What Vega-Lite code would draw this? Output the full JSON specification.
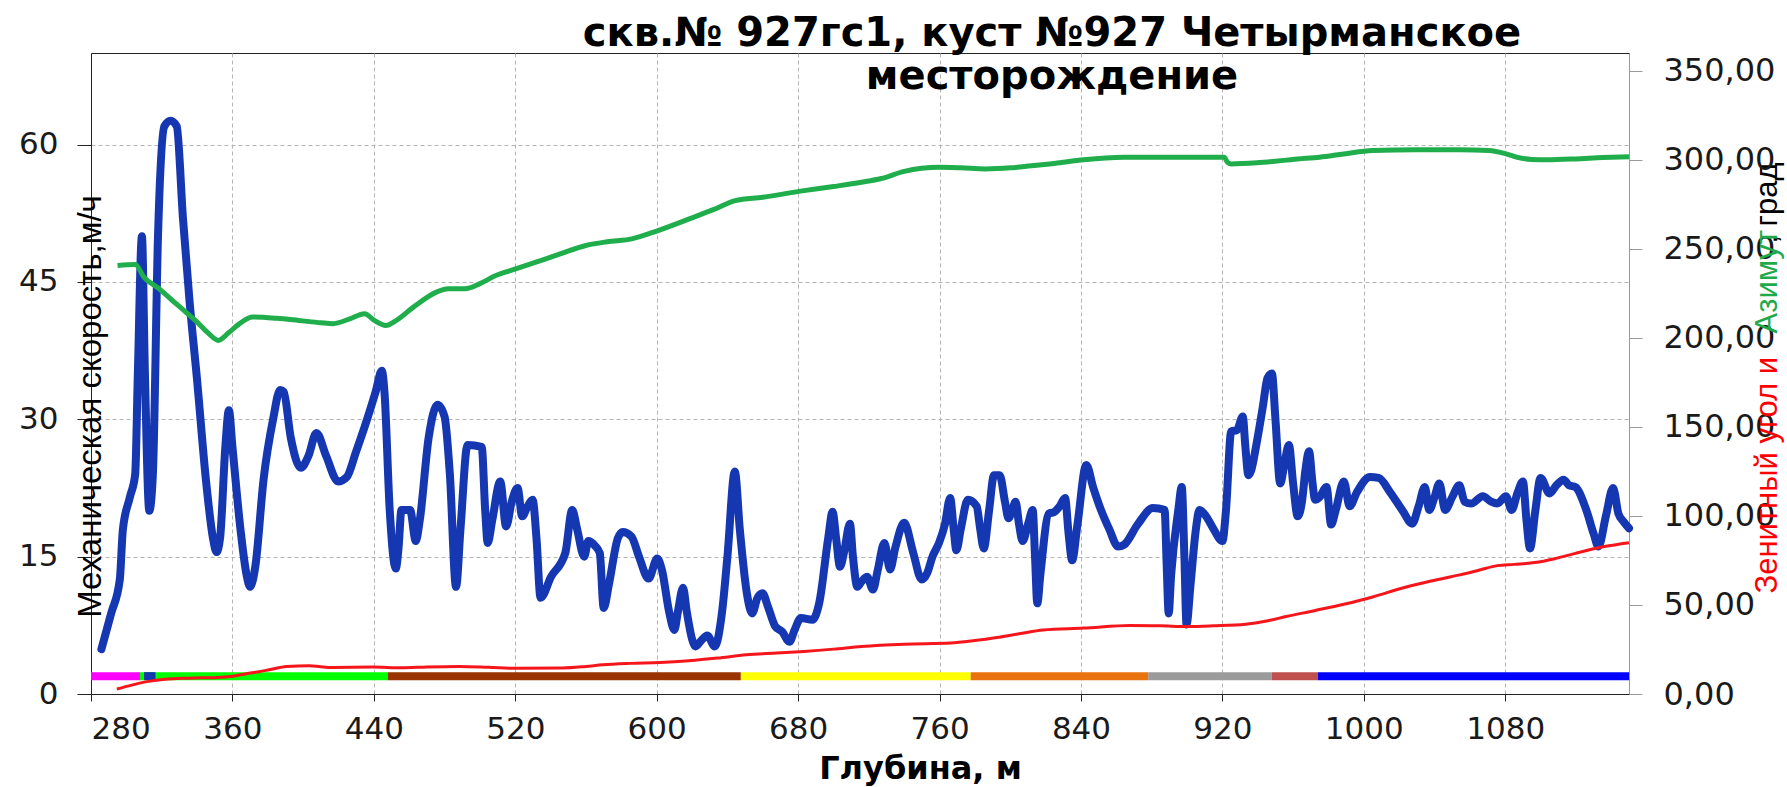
{
  "$schema": "https://vega.github.io/schema/vega-lite/v6.json",
  "width": 1538,
  "height": 641,
  "autosize": {"type": "none"},
  "padding": {"left": 91, "top": 53, "right": 158, "bottom": 93},
  "background": "#ffffff",
  "title": {
    "text": ["скв.№ 927гс1, куст №927  Четырманское", "месторождение"],
    "font": "DejaVu Sans",
    "fontSize": 40,
    "fontWeight": "bold",
    "color": "#000000",
    "anchor": "middle",
    "frame": "group",
    "dx": 192,
    "offset": -44,
    "lineHeight": 43
  },
  "datasets": {
    "speed": [
      {"d": 285.9, "v": 4.9}, {"d": 291.4, "v": 8.8}, {"d": 296.3, "v": 12.5}, {"d": 298, "v": 17.9}, {"d": 302, "v": 21.5}, {"d": 305, "v": 24}, {"d": 306.5, "v": 35}, {"d": 308.8, "v": 50}, {"d": 310.5, "v": 35}, {"d": 313, "v": 20}, {"d": 315, "v": 24}, {"d": 317.9, "v": 50}, {"d": 321.5, "v": 62}, {"d": 325, "v": 62.6}, {"d": 328.5, "v": 62}, {"d": 332, "v": 52}, {"d": 335.7, "v": 43}, {"d": 340, "v": 34.3}, {"d": 345, "v": 23.4}, {"d": 349, "v": 17}, {"d": 351, "v": 15.5}, {"d": 353, "v": 17}, {"d": 356, "v": 27}, {"d": 358, "v": 31}, {"d": 360, "v": 27}, {"d": 364.6, "v": 17.9}, {"d": 368, "v": 13}, {"d": 370, "v": 11.7}, {"d": 373, "v": 14}, {"d": 377.6, "v": 23.4}, {"d": 383, "v": 30}, {"d": 387, "v": 33.2}, {"d": 389, "v": 33}, {"d": 393, "v": 28}, {"d": 398.7, "v": 24.7}, {"d": 403, "v": 26}, {"d": 407.5, "v": 28.5}, {"d": 413, "v": 26}, {"d": 419.8, "v": 23.2}, {"d": 424.7, "v": 23.7}, {"d": 430, "v": 26.5}, {"d": 436, "v": 29.9}, {"d": 441, "v": 33}, {"d": 444.5, "v": 35.3}, {"d": 446, "v": 33}, {"d": 449, "v": 20}, {"d": 452.4, "v": 13.7}, {"d": 454, "v": 16}, {"d": 455.6, "v": 20.1}, {"d": 460.5, "v": 20.1}, {"d": 463.7, "v": 16.7}, {"d": 466, "v": 19}, {"d": 471, "v": 28}, {"d": 476, "v": 31.6}, {"d": 480, "v": 30.3}, {"d": 483, "v": 24}, {"d": 486.5, "v": 11.7}, {"d": 489, "v": 18}, {"d": 493, "v": 27.2}, {"d": 501, "v": 27}, {"d": 503, "v": 20}, {"d": 504.4, "v": 16.5}, {"d": 507, "v": 19}, {"d": 511.5, "v": 23.2}, {"d": 514.8, "v": 18.3}, {"d": 518, "v": 21}, {"d": 521.3, "v": 22.5}, {"d": 523.9, "v": 19.4}, {"d": 527, "v": 20.5}, {"d": 529.8, "v": 21.2}, {"d": 532, "v": 17}, {"d": 534.3, "v": 10.5}, {"d": 540.2, "v": 12.8}, {"d": 548.3, "v": 15.4}, {"d": 552.2, "v": 20.1}, {"d": 555, "v": 18}, {"d": 559, "v": 15}, {"d": 561.3, "v": 16.7}, {"d": 565, "v": 16.2}, {"d": 567.8, "v": 15.4}, {"d": 570, "v": 9.4}, {"d": 573, "v": 12}, {"d": 578, "v": 17}, {"d": 580.8, "v": 17.7}, {"d": 585.7, "v": 17.2}, {"d": 590, "v": 15}, {"d": 595.4, "v": 12.6}, {"d": 600.3, "v": 14.8}, {"d": 603, "v": 13.5}, {"d": 607, "v": 9}, {"d": 610, "v": 7}, {"d": 612, "v": 9}, {"d": 614.9, "v": 11.6}, {"d": 617, "v": 9}, {"d": 620, "v": 6}, {"d": 622, "v": 5.2}, {"d": 625, "v": 5.8}, {"d": 628.6, "v": 6.4}, {"d": 632.8, "v": 5.2}, {"d": 637, "v": 9}, {"d": 640, "v": 15}, {"d": 644.2, "v": 24.3}, {"d": 647, "v": 18}, {"d": 651, "v": 11}, {"d": 654, "v": 8.8}, {"d": 657, "v": 10.5}, {"d": 659.8, "v": 11}, {"d": 663, "v": 9.5}, {"d": 667, "v": 7.4}, {"d": 671, "v": 6.8}, {"d": 675.1, "v": 5.7}, {"d": 678, "v": 7}, {"d": 681.6, "v": 8.3}, {"d": 688, "v": 8.1}, {"d": 692, "v": 10}, {"d": 697, "v": 17}, {"d": 699.5, "v": 19.9}, {"d": 701.5, "v": 17}, {"d": 703.7, "v": 13.9}, {"d": 706, "v": 15.5}, {"d": 709.3, "v": 18.6}, {"d": 711, "v": 15}, {"d": 713.5, "v": 11.7}, {"d": 716, "v": 12.3}, {"d": 719, "v": 12.8}, {"d": 722.3, "v": 11.4}, {"d": 725, "v": 13.5}, {"d": 728.8, "v": 16.5}, {"d": 732, "v": 13.6}, {"d": 735, "v": 16}, {"d": 740, "v": 18.7}, {"d": 745, "v": 15.5}, {"d": 749.9, "v": 12.5}, {"d": 753, "v": 13.2}, {"d": 756, "v": 15}, {"d": 759.7, "v": 16.5}, {"d": 763, "v": 18.5}, {"d": 766, "v": 21.4}, {"d": 768, "v": 18}, {"d": 769.5, "v": 15.7}, {"d": 772, "v": 18}, {"d": 776, "v": 21.2}, {"d": 781, "v": 20.5}, {"d": 783, "v": 18}, {"d": 785, "v": 15.9}, {"d": 788, "v": 20}, {"d": 790.8, "v": 23.9}, {"d": 794, "v": 23.9}, {"d": 797, "v": 21}, {"d": 799, "v": 19.2}, {"d": 801, "v": 20}, {"d": 803, "v": 21}, {"d": 805, "v": 18.5}, {"d": 807, "v": 16.7}, {"d": 810, "v": 18.5}, {"d": 812.7, "v": 20.1}, {"d": 814, "v": 15}, {"d": 815.3, "v": 9.9}, {"d": 817, "v": 13}, {"d": 821.8, "v": 19.7}, {"d": 825, "v": 19.9}, {"d": 828, "v": 20.5}, {"d": 831, "v": 21.4}, {"d": 833, "v": 17.5}, {"d": 835, "v": 14.6}, {"d": 838, "v": 18.5}, {"d": 843, "v": 25}, {"d": 847, "v": 22.5}, {"d": 851.3, "v": 20.1}, {"d": 856, "v": 18}, {"d": 861, "v": 16.1}, {"d": 864.4, "v": 16.3}, {"d": 872, "v": 18.5}, {"d": 880.7, "v": 20.3}, {"d": 887.3, "v": 20.1}, {"d": 888.5, "v": 14}, {"d": 889.6, "v": 8.8}, {"d": 891, "v": 13}, {"d": 895, "v": 20}, {"d": 897, "v": 22.6}, {"d": 898.5, "v": 15}, {"d": 899.7, "v": 7.6}, {"d": 902, "v": 12}, {"d": 905, "v": 18}, {"d": 907, "v": 20.1}, {"d": 910.8, "v": 19.4}, {"d": 915, "v": 18}, {"d": 920, "v": 16.7}, {"d": 922, "v": 20}, {"d": 925, "v": 28.7}, {"d": 928.2, "v": 28.8}, {"d": 931.5, "v": 30.3}, {"d": 933, "v": 27}, {"d": 934.7, "v": 23.9}, {"d": 936.4, "v": 24.5}, {"d": 939, "v": 27}, {"d": 942.9, "v": 31.4}, {"d": 945.5, "v": 34.5}, {"d": 948, "v": 35}, {"d": 950, "v": 30}, {"d": 952.7, "v": 23}, {"d": 955, "v": 25}, {"d": 957.6, "v": 27.2}, {"d": 960, "v": 23}, {"d": 962.6, "v": 19.4}, {"d": 965, "v": 21}, {"d": 967, "v": 24.5}, {"d": 969, "v": 26.5}, {"d": 971, "v": 23}, {"d": 972.4, "v": 21.2}, {"d": 975, "v": 21.5}, {"d": 978.9, "v": 22.6}, {"d": 981.5, "v": 18.5}, {"d": 984, "v": 20}, {"d": 988.7, "v": 23.2}, {"d": 992, "v": 20.5}, {"d": 996, "v": 22}, {"d": 1003.5, "v": 23.7}, {"d": 1008.4, "v": 23.6}, {"d": 1015, "v": 22}, {"d": 1022, "v": 20}, {"d": 1027.3, "v": 18.6}, {"d": 1031, "v": 20.5}, {"d": 1034.5, "v": 22.6}, {"d": 1037, "v": 20.1}, {"d": 1040, "v": 21.5}, {"d": 1042.7, "v": 23}, {"d": 1046, "v": 20.1}, {"d": 1050, "v": 21.5}, {"d": 1054, "v": 22.8}, {"d": 1057, "v": 21}, {"d": 1060.7, "v": 20.8}, {"d": 1067.3, "v": 21.6}, {"d": 1072, "v": 21}, {"d": 1075.5, "v": 20.8}, {"d": 1080.4, "v": 21.6}, {"d": 1083.6, "v": 20.1}, {"d": 1087, "v": 22}, {"d": 1090, "v": 23.2}, {"d": 1092, "v": 19}, {"d": 1094, "v": 15.9}, {"d": 1097, "v": 20}, {"d": 1100, "v": 23.6}, {"d": 1105, "v": 21.9}, {"d": 1109, "v": 22.8}, {"d": 1113, "v": 23.4}, {"d": 1116, "v": 22.8}, {"d": 1119.6, "v": 22.6}, {"d": 1126, "v": 20}, {"d": 1130, "v": 17.5}, {"d": 1132.7, "v": 16.1}, {"d": 1137, "v": 19.5}, {"d": 1141, "v": 22.5}, {"d": 1144, "v": 19.7}, {"d": 1147, "v": 18.8}, {"d": 1150, "v": 18.1}
    ],
    "zen": [
      {"d": 294.6, "r": 2.8}, {"d": 303, "r": 5}, {"d": 312.5, "r": 7.1}, {"d": 322, "r": 8.3}, {"d": 335.3, "r": 8.9}, {"d": 351.5, "r": 9.3}, {"d": 360, "r": 10}, {"d": 367.8, "r": 11.4}, {"d": 375, "r": 12.5}, {"d": 380.8, "r": 13.6}, {"d": 390.6, "r": 15.5}, {"d": 403.6, "r": 15.9}, {"d": 410, "r": 15.3}, {"d": 416.6, "r": 14.9}, {"d": 439.3, "r": 15.1}, {"d": 455.6, "r": 14.7}, {"d": 470, "r": 15.2}, {"d": 488.1, "r": 15.5}, {"d": 505, "r": 15}, {"d": 520.6, "r": 14.4}, {"d": 546.7, "r": 14.6}, {"d": 560, "r": 15.5}, {"d": 569.4, "r": 16.4}, {"d": 585, "r": 17.2}, {"d": 602, "r": 17.7}, {"d": 618.2, "r": 18.7}, {"d": 634.5, "r": 20.2}, {"d": 650.7, "r": 22}, {"d": 668, "r": 23}, {"d": 683.3, "r": 23.9}, {"d": 700, "r": 25.2}, {"d": 715.8, "r": 26.7}, {"d": 740, "r": 28}, {"d": 766.2, "r": 28.6}, {"d": 780, "r": 30}, {"d": 792.4, "r": 31.7}, {"d": 805, "r": 33.8}, {"d": 818.6, "r": 36}, {"d": 841.5, "r": 37}, {"d": 867.7, "r": 38.5}, {"d": 885, "r": 38.3}, {"d": 900.4, "r": 37.9}, {"d": 915, "r": 38.3}, {"d": 933.1, "r": 39.2}, {"d": 945, "r": 41}, {"d": 956, "r": 43.5}, {"d": 972, "r": 46.8}, {"d": 988.7, "r": 50.4}, {"d": 1005, "r": 54.5}, {"d": 1021.4, "r": 59.4}, {"d": 1038, "r": 63.5}, {"d": 1054.2, "r": 66.9}, {"d": 1065, "r": 69.5}, {"d": 1075.5, "r": 72.1}, {"d": 1085, "r": 72.8}, {"d": 1096.7, "r": 73.8}, {"d": 1108, "r": 76}, {"d": 1119.6, "r": 79}, {"d": 1136, "r": 82.8}, {"d": 1150, "r": 85}
    ],
    "azi": [
      {"d": 295, "r": 240.7}, {"d": 305, "r": 241.2}, {"d": 310, "r": 234}, {"d": 318, "r": 228}, {"d": 326, "r": 221}, {"d": 333, "r": 215}, {"d": 339, "r": 209.8}, {"d": 346, "r": 203}, {"d": 352, "r": 198.6}, {"d": 358, "r": 203}, {"d": 364, "r": 208}, {"d": 371.5, "r": 211.7}, {"d": 385, "r": 211}, {"d": 397.5, "r": 209.8}, {"d": 410, "r": 208.5}, {"d": 417, "r": 208}, {"d": 426, "r": 210.5}, {"d": 434.8, "r": 213.6}, {"d": 440, "r": 210}, {"d": 446.8, "r": 207}, {"d": 453, "r": 210}, {"d": 462, "r": 217}, {"d": 475.4, "r": 225.7}, {"d": 482, "r": 227.6}, {"d": 491.6, "r": 227.6}, {"d": 500, "r": 230.5}, {"d": 509, "r": 235}, {"d": 517.6, "r": 237.9}, {"d": 530, "r": 242}, {"d": 545, "r": 247}, {"d": 559.9, "r": 251.9}, {"d": 572, "r": 254}, {"d": 585.9, "r": 255.6}, {"d": 600, "r": 260}, {"d": 618.4, "r": 266.8}, {"d": 632, "r": 272}, {"d": 644.4, "r": 277.1}, {"d": 660, "r": 279}, {"d": 683.3, "r": 282.7}, {"d": 700, "r": 285}, {"d": 715.8, "r": 287.4}, {"d": 727, "r": 289.5}, {"d": 740, "r": 293.5}, {"d": 759.7, "r": 295.8}, {"d": 772, "r": 295.5}, {"d": 785.9, "r": 294.9}, {"d": 800, "r": 295.5}, {"d": 812, "r": 296.7}, {"d": 825, "r": 298}, {"d": 841.5, "r": 300}, {"d": 864.4, "r": 301.4}, {"d": 890, "r": 301.5}, {"d": 921, "r": 301.4}, {"d": 923, "r": 298.5}, {"d": 925, "r": 297.7}, {"d": 939.6, "r": 298.3}, {"d": 962.6, "r": 300.5}, {"d": 975, "r": 301.5}, {"d": 988.7, "r": 303.3}, {"d": 1005, "r": 305.2}, {"d": 1030, "r": 305.7}, {"d": 1054, "r": 305.7}, {"d": 1070.5, "r": 305.2}, {"d": 1080, "r": 303.5}, {"d": 1086.9, "r": 301.4}, {"d": 1095, "r": 300.2}, {"d": 1103, "r": 300}, {"d": 1119.6, "r": 300.5}, {"d": 1135, "r": 301.3}, {"d": 1150, "r": 301.8}
    ],
    "band": [
      {"s": 280, "e": 307.7, "f": "A"},
      {"s": 307.7, "e": 447.8, "f": "B"},
      {"s": 447.8, "e": 647.6, "f": "C"},
      {"s": 647.6, "e": 777.6, "f": "D"},
      {"s": 777.6, "e": 878, "f": "E"},
      {"s": 878, "e": 948, "f": "F"},
      {"s": 948, "e": 974, "f": "G"},
      {"s": 974, "e": 1150, "f": "H"},
      {"s": 310, "e": 316.5, "f": "I"}
    ]
  },
  "encoding": {
    "x": {
      "field": "d", "type": "quantitative",
      "scale": {"domain": [280, 1150], "nice": false, "zero": false},
      "axis": {
        "orient": "bottom",
        "values": [280, 360, 440, 520, 600, 680, 760, 840, 920, 1000, 1080],
        "format": "d",
        "title": "Глубина, м",
        "titleFont": "DejaVu Sans", "titleFontSize": 32, "titleFontWeight": "bold", "titleColor": "#000000",
        "titleX": 829, "titleY": 84, "titleAlign": "center", "titleBaseline": "alphabetic",
        "labelFont": "DejaVu Sans", "labelFontSize": 31, "labelColor": "#1a1a1a",
        "tickSize": 7, "labelPadding": 13, "tickColor": "#222222", "domainColor": "#222222",
        "grid": true, "gridDash": [4, 3], "gridColor": "#b4b4b4", "gridWidth": 1
      }
    }
  },
  "layer": [
    {
      "data": {"name": "speed"},
      "mark": {"type": "line", "color": "#1538b2", "strokeWidth": 8, "interpolate": "monotone", "strokeJoin": "round", "strokeCap": "round"},
      "encoding": {
        "y": {
          "field": "v", "type": "quantitative",
          "scale": {"domain": [0, 70], "nice": false},
          "axis": {
            "orient": "left",
            "values": [0, 15, 30, 45, 60],
            "title": "Механическая скорость,м/ч",
            "titleFont": "Liberation Sans", "titleFontSize": 33, "titleFontWeight": "normal", "titleColor": "#000000",
            "titleAngle": 270, "titleAlign": "center", "titleBaseline": "alphabetic", "titleX": 9, "titleY": 353,
            "labelFont": "DejaVu Sans", "labelFontSize": 31, "labelColor": "#1a1a1a",
            "tickSize": 14, "labelPadding": 19, "tickColor": "#222222", "domainColor": "#222222",
            "grid": true, "gridDash": [4, 3], "gridColor": "#b4b4b4", "gridWidth": 1
          }
        }
      }
    },
    {
      "data": {"name": "band"},
      "mark": {"type": "rule", "strokeWidth": 8, "strokeCap": "butt"},
      "encoding": {
        "x": {"field": "s", "type": "quantitative"},
        "x2": {"field": "e"},
        "y": {
          "datum": 1.95, "type": "quantitative",
          "scale": {"domain": [0, 70], "nice": false},
          "axis": {
            "orient": "right", "labels": false, "ticks": false, "domain": false, "grid": false,
            "title": ", град", "titleFont": "Liberation Sans", "titleFontSize": 31, "titleFontWeight": "normal", "titleColor": "#000000",
            "titleAngle": 270, "titleAlign": "right", "titleBaseline": "alphabetic", "titleX": 147, "titleY": 109
          }
        },
        "color": {
          "field": "f", "type": "nominal", "legend": null,
          "scale": {
            "domain": ["A", "B", "C", "D", "E", "F", "G", "H", "I"],
            "range": ["#ff00ff", "#00ff00", "#993300", "#ffff00", "#e8730f", "#9b9b9b", "#c0504d", "#0000ff", "#1538b2"]
          }
        }
      }
    },
    {
      "data": {"name": "zen"},
      "mark": {"type": "line", "color": "#f5161b", "strokeWidth": 3, "interpolate": "monotone"},
      "encoding": {
        "y": {
          "field": "r", "type": "quantitative",
          "scale": {"domain": [0, 360], "nice": false},
          "axis": {
            "orient": "right",
            "values": [0, 50, 100, 150, 200, 250, 300, 350],
            "labelExpr": "replace(format(datum.value, '.2f'), '.', ',')",
            "labelFont": "DejaVu Sans", "labelFontSize": 32, "labelColor": "#1a1a1a", "labelAlign": "left",
            "tickSize": 13, "labelPadding": 21, "tickColor": "#999999", "domainColor": "#999999", "grid": false,
            "title": "Зенитный угол и", "titleFont": "Liberation Sans", "titleFontSize": 31, "titleFontWeight": "normal", "titleColor": "#ff0000",
            "titleAngle": 270, "titleAlign": "left", "titleBaseline": "alphabetic", "titleX": 147, "titleY": 540
          }
        }
      }
    },
    {
      "data": {"name": "azi"},
      "mark": {"type": "line", "color": "#1fae4b", "strokeWidth": 5, "interpolate": "monotone"},
      "encoding": {
        "y": {
          "field": "r", "type": "quantitative",
          "scale": {"domain": [0, 360], "nice": false},
          "axis": {
            "orient": "right", "labels": false, "ticks": false, "domain": false, "grid": false,
            "title": "Азимут", "titleFont": "Liberation Sans", "titleFontSize": 31, "titleFontWeight": "normal", "titleColor": "#1faa4a",
            "titleAngle": 270, "titleAlign": "left", "titleBaseline": "alphabetic", "titleX": 147, "titleY": 280
          }
        }
      }
    }
  ],
  "resolve": {"scale": {"y": "independent"}, "axis": {"y": "independent"}},
  "config": {
    "view": {"stroke": "#222222", "strokeWidth": 1}
  }
}
